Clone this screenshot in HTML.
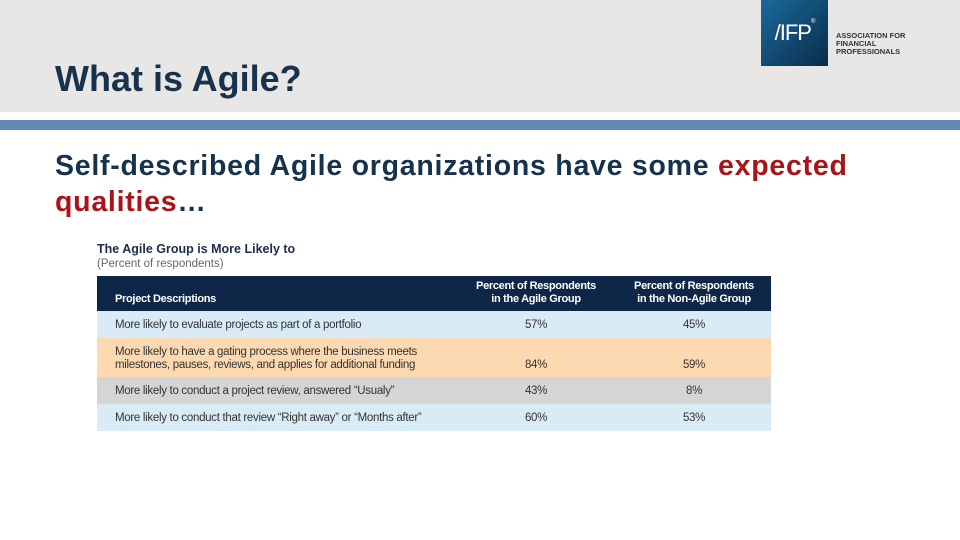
<!DOCTYPE html>
<html><head><meta charset="utf-8"><style>
*{margin:0;padding:0;box-sizing:border-box}
body{width:960px;height:540px;background:#fff;position:relative;overflow:hidden;font-family:"Liberation Sans",sans-serif}
.a{position:absolute}
.row{position:absolute;left:97px;width:674px;font-size:11.5px;color:#333;letter-spacing:-0.3px}
.row div{position:absolute}
</style></head><body>
<div class="a" style="left:0;top:0;width:960px;height:112px;background:#e8e7e6"></div>
<div class="a" style="left:0;top:120px;width:960px;height:10px;background:#6189b3"></div>
<div class="a" style="left:761px;top:0;width:67px;height:66px;background:linear-gradient(135deg,#1a6a9a,#0b2c4a);color:#fff;font-size:22px;line-height:66px;text-align:center;letter-spacing:-1px">/IFP<span style="font-size:6px;vertical-align:top;line-height:44px">®</span></div>
<div class="a" style="left:836px;top:32px;font-size:7.5px;line-height:8px;color:#333;font-weight:bold">ASSOCIATION FOR<br>FINANCIAL<br>PROFESSIONALS</div>
<div class="a" style="left:55px;top:58px;font-size:36px;font-weight:bold;color:#17324d">What is Agile?</div>
<div class="a" style="left:55px;top:148px;width:860px;font-size:28.5px;line-height:36px;font-weight:bold;letter-spacing:0.75px;color:#17324d">Self-described Agile organizations have some <span style="color:#a8141a">expected qualities</span>…</div>
<div class="a" style="left:97px;top:242px;font-size:12.5px;font-weight:bold;color:#1b2d4a">The Agile Group is More Likely to</div>
<div class="a" style="left:97px;top:258px;font-size:11.5px;color:#666">(Percent of respondents)</div>
<div class="a" style="left:97px;top:276px;width:674px;height:35px;background:#0e2748;color:#fff;font-size:11px;font-weight:bold;letter-spacing:-0.3px">
<div class="a" style="left:18px;top:17px">Project Descriptions</div>
<div class="a" style="left:364px;top:4px;width:150px;text-align:center;line-height:13px">Percent of Respondents<br>in the Agile Group</div>
<div class="a" style="left:522px;top:4px;width:150px;text-align:center;line-height:13px">Percent of Respondents<br>in the Non-Agile Group</div>
</div>
<div class="row" style="top:311px;height:27px;background:#d9ecf6"><div style="left:18px;top:8px">More likely to evaluate projects as part of a portfolio</div><div style="left:364px;top:8px;width:150px;text-align:center">57%</div><div style="left:522px;top:8px;width:150px;text-align:center">45%</div></div>
<div class="row" style="top:338px;height:39px;background:#fcd9b0"><div style="left:18px;top:8px;line-height:13px">More likely to have a gating process where the business meets<br>milestones, pauses, reviews, and applies for additional funding</div><div style="left:364px;top:21px;width:150px;text-align:center">84%</div><div style="left:522px;top:21px;width:150px;text-align:center">59%</div></div>
<div class="row" style="top:377px;height:27px;background:#d5d5d5"><div style="left:18px;top:8px">More likely to conduct a project review, answered “Usualy”</div><div style="left:364px;top:8px;width:150px;text-align:center">43%</div><div style="left:522px;top:8px;width:150px;text-align:center">8%</div></div>
<div class="row" style="top:404px;height:27px;background:#d9ecf6"><div style="left:18px;top:8px">More likely to conduct that review “Right away” or “Months after”</div><div style="left:364px;top:8px;width:150px;text-align:center">60%</div><div style="left:522px;top:8px;width:150px;text-align:center">53%</div></div>
</body></html>
